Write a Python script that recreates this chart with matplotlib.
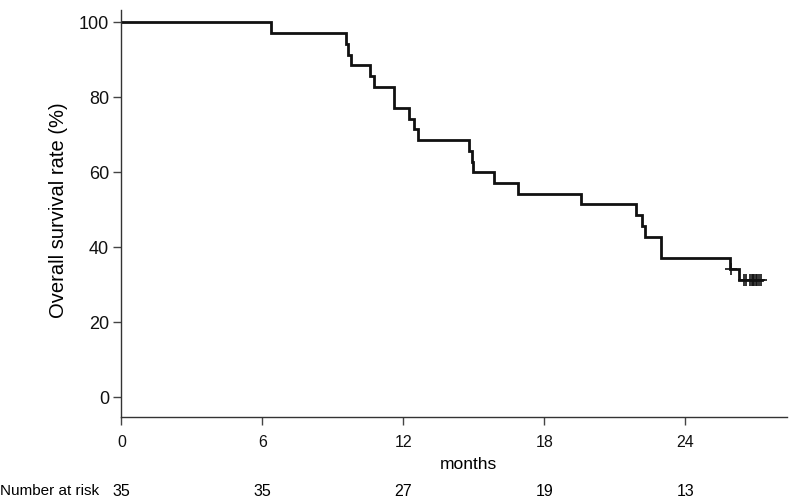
import matplotlib
matplotlib.use("Agg")
import matplotlib.pyplot as plt

plt.rcParams['font.family'] = ['Liberation Sans', 'DejaVu Sans']

# Kaplan-Meier step data (months, survival %)
step_times = [0, 6.35, 9.56, 9.65, 9.75, 10.58, 10.77, 11.62, 12.24, 12.47, 12.64,
              14.81, 14.91, 14.98, 15.84, 16.87, 19.56, 21.91, 22.15, 22.30, 22.96,
              25.90, 26.27, 27.25]
surv_pct = [100.0, 97.14, 94.29, 91.43, 88.57, 85.71, 82.86, 77.14, 74.29, 71.43, 68.57,
            65.71, 62.86, 60.00, 57.14, 54.29, 51.43, 48.57, 45.71, 42.86, 37.14,
            34.29, 31.17, 31.17]

# censored observations
censor_times = [25.95, 26.48, 26.60, 26.75, 26.82, 26.88, 26.94, 27.00, 27.06, 27.12, 27.22]
censor_surv = [34.29, 31.17, 31.17, 31.17, 31.17, 31.17, 31.17, 31.17, 31.17, 31.17, 31.17]

xticks = [0, 6, 12, 18, 24]
yticks = [0, 20, 40, 60, 80, 100]
at_risk = [35, 35, 27, 19, 13]

W, H = 794, 498
fig = plt.figure(figsize=(W / 100, H / 100), dpi=100)
left, right, top, bottom = 121.5, 787, 10.5, 417
ax = fig.add_axes([left / W, 1 - bottom / H, (right - left) / W, (bottom - top) / H])

ax.step(step_times, surv_pct, where='post', color='#111111', lw=2.0, solid_joinstyle='miter')
ax.plot(censor_times, censor_surv, ls='none', marker='+', ms=8, mew=1.2, color='#111111')

ax.set_xlim(0, 28.33)
ax.set_ylim(-5.33, 103.2)
ax.set_xticks(xticks)
ax.set_yticks(yticks)
ax.tick_params(axis='both', length=6, width=1, color='#444444', labelcolor='#111111')
ax.tick_params(axis='x', pad=7, labelsize=11.5)
ax.tick_params(axis='y', pad=3, labelsize=13)
for s in ['top', 'right']:
    ax.spines[s].set_visible(False)
for s in ['left', 'bottom']:
    ax.spines[s].set_color('#333333')
    ax.spines[s].set_linewidth(1.0)

fig.text(58 / W, 1 - 210 / H, 'Overall survival rate (%)', fontsize=14.5, rotation=90,
         ha='center', va='center')
fig.text(468 / W, 1 - 464 / H, 'months', fontsize=12.5, ha='center', va='center')

# Number at risk row
fig.text(0, 1 - 491 / H, 'Number at risk', fontsize=11, ha='left', va='center')
for t, n in zip(xticks, at_risk):
    fig.text(ax.transData.transform((t, 0))[0] / W, 1 - 491 / H, str(n),
             fontsize=11.5, ha='center', va='center')

fig.savefig('out.png', dpi=100)
